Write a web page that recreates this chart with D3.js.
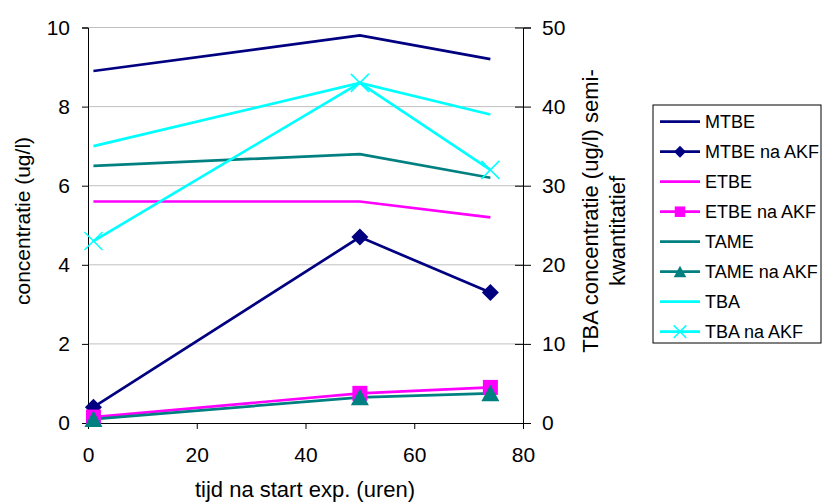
<!DOCTYPE html>
<html>
<head>
<meta charset="utf-8">
<script src="https://cdn.jsdelivr.net/npm/d3@7"></script>
<style>
  body { margin: 0; background: #fff; }
  text { font-family: "Liberation Sans", Arial, sans-serif; fill: #000; }
</style>
</head>
<body>
<script>
// Chart data
const hours = [1, 50, 74];
const mtbe = [8.9, 9.8, 9.2];
const mtbeAkf = [0.4, 4.7, 3.3];
const etbe = [5.6, 5.6, 5.2];
const etbeAkf = [0.15, 0.75, 0.9];
const tame = [6.5, 6.8, 6.2];
const tameAkf = [0.1, 0.65, 0.75];
const tba = [35, 43, 39];          // right axis
const tbaAkf = [23, 43, 32];       // right axis
const xTicks = [0, 20, 40, 60, 80];
const yTicks = [0, 2, 4, 6, 8, 10];
const y2Ticks = [0, 10, 20, 30, 40, 50];

const width = 823, height = 503;
const plotLeft = 88, plotRight = 523, plotTop = 27.5, plotBottom = 423;

const svg = d3.select('body').append('svg')
  .attr('width', width)
  .attr('height', height);

const x = d3.scaleLinear().domain([0, 80]).range([plotLeft, plotRight]);
const y = d3.scaleLinear().domain([0, 10]).range([plotBottom, plotTop]);
const y2 = d3.scaleLinear().domain([0, 50]).range([plotBottom, plotTop]);

// gridlines
svg.append('g').selectAll('line')
  .data(yTicks.filter(d => d > 0))
  .join('line')
  .attr('x1', plotLeft).attr('x2', plotRight)
  .attr('y1', d => y(d)).attr('y2', d => y(d))
  .attr('stroke', '#c0c0c0').attr('stroke-width', 1);

// axes
const fontSize = '21px';
svg.append('g')
  .attr('transform', `translate(${plotLeft},0)`)
  .call(d3.axisLeft(y).tickValues(yTicks).tickSize(6).tickPadding(12))
  .call(g => g.selectAll('text').style('font-size', fontSize));

svg.append('g')
  .attr('transform', `translate(0,${plotBottom})`)
  .call(d3.axisBottom(x).tickValues(xTicks).tickSize(6).tickPadding(18))
  .call(g => g.selectAll('text').style('font-size', fontSize));

svg.append('g')
  .attr('transform', `translate(${plotRight},0)`)
  .call(d3.axisRight(y2).tickValues(y2Ticks).tickSize(8).tickPadding(11))
  .call(g => g.selectAll('.tick line').attr('x1', -8))
  .call(g => g.selectAll('text').style('font-size', fontSize));

svg.selectAll('.domain').attr('stroke', '#000');
svg.selectAll('.tick line').attr('stroke', '#000');

// axis titles
svg.append('text')
  .attr('transform', 'translate(30,221) rotate(-90)')
  .attr('text-anchor', 'middle')
  .style('font-size', '21px')
  .text('concentratie (ug/l)');

svg.append('text')
  .attr('transform', 'translate(598,211) rotate(-90)')
  .attr('text-anchor', 'middle')
  .style('font-size', '22px')
  .text('TBA concentratie (ug/l) semi-');
svg.append('text')
  .attr('transform', 'translate(625,231) rotate(-90)')
  .attr('text-anchor', 'middle')
  .style('font-size', '22px')
  .text('kwantitatief');

svg.append('text')
  .attr('x', 305).attr('y', 497)
  .attr('text-anchor', 'middle')
  .style('font-size', '22px')
  .text('tijd na start exp. (uren)');

// series
const series = [
  { name: 'MTBE', values: mtbe, color: '#000080', marker: null, scale: y },
  { name: 'MTBE na AKF', values: mtbeAkf, color: '#000080', marker: 'diamond', scale: y },
  { name: 'ETBE', values: etbe, color: '#ff00ff', marker: null, scale: y },
  { name: 'ETBE na AKF', values: etbeAkf, color: '#ff00ff', marker: 'square', scale: y },
  { name: 'TAME', values: tame, color: '#008080', marker: null, scale: y },
  { name: 'TAME na AKF', values: tameAkf, color: '#008080', marker: 'triangle', scale: y },
  { name: 'TBA', values: tba, color: '#00ffff', marker: null, scale: y2 },
  { name: 'TBA na AKF', values: tbaAkf, color: '#00ffff', marker: 'cross', scale: y2 }
];

function drawMarker(g, type, color, k) {
  const s = k || 1;
  const gg = g.append('g').attr('transform', `scale(${s})`);
  if (type === 'diamond') {
    gg.append('path').attr('d', 'M0,-8.5L8.5,0L0,8.5L-8.5,0Z').attr('fill', color);
  } else if (type === 'square') {
    gg.append('rect').attr('x', -7.5).attr('y', -7.5).attr('width', 15).attr('height', 15).attr('fill', color);
  } else if (type === 'triangle') {
    gg.append('path').attr('d', 'M0,-8.5L9,8L-9,8Z').attr('fill', color);
  } else if (type === 'cross') {
    gg.append('path').attr('d', 'M-9,-9L9,9M-9,9L9,-9')
      .attr('stroke', color).attr('stroke-width', 1.5 / s).attr('fill', 'none');
  }
}

series.forEach(s => {
  const line = d3.line()
    .x((d, i) => x(hours[i]))
    .y(d => s.scale(d));
  svg.append('path')
    .datum(s.values)
    .attr('d', line)
    .attr('fill', 'none')
    .attr('stroke', s.color)
    .attr('stroke-width', 2.7);
});

series.forEach(s => {
  if (!s.marker) return;
  s.values.forEach((v, i) => {
    const g = svg.append('g').attr('transform', `translate(${x(hours[i])},${s.scale(v)})`);
    drawMarker(g, s.marker, s.color, 1);
  });
});

// legend
const legend = svg.append('g').attr('transform', 'translate(653,105)');
legend.append('rect')
  .attr('width', 168).attr('height', 238)
  .attr('fill', '#fff').attr('stroke', '#000').attr('stroke-width', 1);

series.forEach((s, i) => {
  const ly = 16.7 + i * 30;
  legend.append('line')
    .attr('x1', 7).attr('x2', 47)
    .attr('y1', ly).attr('y2', ly)
    .attr('stroke', s.color).attr('stroke-width', 2.7);
  if (s.marker) {
    const g = legend.append('g').attr('transform', `translate(27,${ly})`);
    drawMarker(g, s.marker, s.color, 0.7);
  }
  legend.append('text')
    .attr('x', 52).attr('y', ly + 6.5)
    .style('font-size', '18px')
    .text(s.name);
});
</script>
</body>
</html>
